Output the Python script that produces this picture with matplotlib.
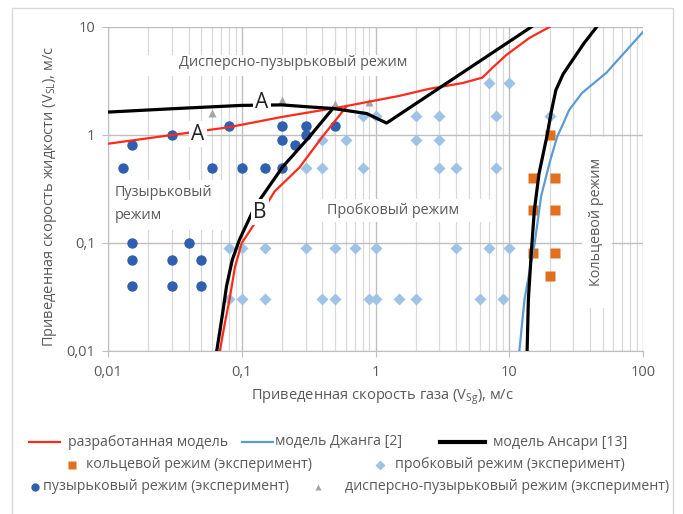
import matplotlib
matplotlib.use("Agg")
import matplotlib.pyplot as plt
from matplotlib.ticker import FixedLocator, FixedFormatter, NullLocator, NullFormatter
from matplotlib.lines import Line2D
from matplotlib.patches import Rectangle

plt.rcParams['font.family'] = ['Open Sans', 'DejaVu Sans']
plt.rcParams['mathtext.default'] = 'regular'

W, H = 683, 514
TXT = '#595959'

# ---- данные ----
# модели
red_a_x = [0.01, 0.03, 0.08, 0.2, 0.6, 1.5, 2.5, 4.5, 6.3, 7.5, 9.5, 14.1, 20]
red_a_y = [0.83, 1.0, 1.18, 1.47, 1.85, 2.3, 2.67, 3.03, 3.4, 4.2, 5.5, 7.9, 10]
red_b_x = [0.0686, 0.0747, 0.081, 0.089, 0.1, 0.13, 0.176, 0.27, 0.4, 0.61]
red_b_y = [0.01, 0.018, 0.03, 0.06, 0.1, 0.163, 0.3, 0.5, 0.96, 1.85]

black_a_x = [0.01, 0.03, 0.1, 0.2, 0.3, 0.48, 0.86, 1.21, 14.6]
black_a_y = [1.63, 1.75, 1.88, 1.9, 1.83, 1.76, 1.58, 1.29, 10]
black_b_x = [0.065, 0.072, 0.077, 0.085, 0.096, 0.125, 0.202, 0.32, 0.48]
black_b_y = [0.01, 0.0225, 0.04, 0.07, 0.107, 0.215, 0.506, 0.96, 1.76]
black_c_x = [13.6, 13.9, 14.6, 15.4, 16.7, 19.2, 20.6, 22.3, 25.3, 29.6, 36.3, 45]
black_c_y = [0.01, 0.03, 0.08, 0.2, 0.44, 1.0, 1.63, 2.6, 3.67, 4.9, 7.1, 10]

zhang_x = [11.9, 13, 15.5, 17.3, 20, 22.8, 25.5, 28, 35, 53, 100]
zhang_y = [0.01, 0.03, 0.1, 0.27, 0.55, 0.96, 1.3, 1.7, 2.45, 3.75, 9]

# эксперимент
bubble_x = [0.015, 0.013, 0.03, 0.06, 0.08, 0.1, 0.15, 0.2, 0.2, 0.2, 0.25,
            0.3, 0.3, 0.5, 0.015, 0.04, 0.015, 0.03, 0.05, 0.015, 0.03, 0.05]
bubble_y = [0.8, 0.5, 1.0, 0.5, 1.2, 0.5, 0.5, 1.2, 0.9, 0.5, 0.8,
            1.2, 1.0, 1.2, 0.1, 0.1, 0.07, 0.07, 0.07, 0.04, 0.04, 0.04]

slug_x = [7, 10,
          0.8, 1.0, 2, 3, 8, 20,
          0.4, 0.6, 2, 3,
          0.3, 0.4, 0.8, 3, 4, 8,
          0.08, 0.1, 0.15, 0.3, 0.5, 0.7, 1.0, 4, 7, 10,
          0.08, 0.1, 0.15, 0.4, 0.5, 0.9, 1.0, 1.5, 2, 6, 9]
slug_y = [3, 3,
          1.5, 1.5, 1.5, 1.5, 1.5, 1.5,
          0.9, 0.9, 0.9, 0.9,
          0.5, 0.5, 0.5, 0.5, 0.5, 0.5,
          0.09, 0.09, 0.09, 0.09, 0.09, 0.09, 0.09, 0.09, 0.09, 0.09,
          0.03, 0.03, 0.03, 0.03, 0.03, 0.03, 0.03, 0.03, 0.03, 0.03, 0.03]

annular_x = [20, 15, 22, 15, 22, 15, 22, 20]
annular_y = [1.0, 0.4, 0.4, 0.2, 0.2, 0.08, 0.08, 0.05]

disp_x = [0.06, 0.2, 0.5, 0.9]
disp_y = [1.6, 2.1, 1.95, 2.0]

x_ticks = [0.01, 0.1, 1, 10, 100]
x_labels = ['0,01', '0,1', '1', '10', '100']
y_ticks = [0.01, 0.1, 1, 10]
y_labels = ['0,01', '0,1', '1', '10']

C_RED = '#ff2a1a'
C_BLUE = '#5b9bd5'
C_DOT = '#2f5fae'
C_DIA = '#9dc3e6'
C_SQ = '#e0701e'
C_TRI = '#a5a5a5'


def fx(px):
    return px / W


def fy(py):
    return 1 - py / H


fig = plt.figure(figsize=(W / 100, H / 100), dpi=100)
fig.patches.append(Rectangle((fx(12), fy(530)), fx(673) - fx(12), fy(8) - fy(530),
                             transform=fig.transFigure, fill=False,
                             edgecolor='#d9d9d9', lw=1))

ax = fig.add_axes([fx(108), fy(351), fx(643) - fx(108), fy(27) - fy(351)])
ax.set_xscale('log')
ax.set_yscale('log')
ax.set_xlim(0.01, 100)
ax.set_ylim(0.01, 10)

ax.xaxis.set_major_locator(FixedLocator(x_ticks))
ax.xaxis.set_major_formatter(FixedFormatter(x_labels))
ax.yaxis.set_major_locator(FixedLocator(y_ticks))
ax.yaxis.set_major_formatter(FixedFormatter(y_labels))
ax.yaxis.set_minor_locator(NullLocator())
ax.xaxis.set_minor_formatter(NullFormatter())
ax.tick_params(which='major', length=4, color='#bfbfbf', labelcolor=TXT, labelsize=10.5)
ax.tick_params(axis='x', which='major', pad=6)
ax.tick_params(axis='y', which='major', pad=5)
ax.tick_params(which='minor', length=0)
ax.grid(which='major', color='#bfbfbf', lw=1)
ax.grid(which='minor', axis='x', color='#d9d9d9', lw=0.9)
ax.set_axisbelow(True)
for s in ['top', 'right']:
    ax.spines[s].set_visible(False)
for s in ['left', 'bottom']:
    ax.spines[s].set_color('#bfbfbf')

# точки
ax.plot(slug_x, slug_y, 'D', color=C_DIA, ms=6.5, mec='none', zorder=3)
ax.plot(bubble_x, bubble_y, 'o', color=C_DOT, ms=7.5, mec='none', zorder=3)
ax.plot(annular_x, annular_y, 's', color=C_SQ, ms=6.5, mec='none', zorder=3)
ax.plot(disp_x, disp_y, '^', color=C_TRI, ms=6, mec='none', zorder=3)

# линии моделей
ax.plot(red_a_x, red_a_y, color=C_RED, lw=1.6, zorder=4)
ax.plot(red_b_x, red_b_y, color=C_RED, lw=1.6, zorder=4)
ax.plot(zhang_x, zhang_y, color=C_BLUE, lw=1.6, zorder=4)
for bx, by in [(black_a_x, black_a_y), (black_b_x, black_b_y), (black_c_x, black_c_y)]:
    ax.plot(bx, by, color='black', lw=2.3, zorder=5, solid_joinstyle='round')


# белые подложки надписей
def box(x0, y0, x1, y1):
    fig.patches.append(Rectangle((fx(x0), fy(y1)), fx(x1) - fx(x0), fy(y0) - fy(y1),
                                 transform=fig.transFigure, facecolor='white',
                                 edgecolor='none', zorder=1))


box(140, 55, 411, 76)
box(110, 180, 222, 230)
box(318, 199, 493, 222)
box(582, 137, 612, 308)

REG_FS = 10.4
fig.text(fx(293), fy(63), 'Дисперсно-пузырьковый режим', ha='center', va='center',
         fontsize=REG_FS, color=TXT)
fig.text(fx(115), fy(193), 'Пузырьковый', ha='left', va='center', fontsize=REG_FS, color=TXT)
fig.text(fx(115), fy(215), 'режим', ha='left', va='center', fontsize=REG_FS, color=TXT)
fig.text(fx(327), fy(211), 'Пробковый режим', ha='left', va='center', fontsize=REG_FS, color=TXT)
fig.text(fx(597), fy(222), 'Кольцевой режим', ha='center', va='center', rotation=90,
         fontsize=REG_FS, color=TXT)

lbl_bb = dict(boxstyle='square,pad=0.1', facecolor='white', edgecolor='none')
for t, px, py in [('A', 262, 103), ('A', 198, 134), ('B', 260, 212)]:
    fig.text(fx(px), fy(py), t, ha='center', va='center', fontsize=15,
             color='#222222', bbox=lbl_bb, zorder=10)

# подписи осей
fig.text(fx(382), fy(397), 'Приведенная скорость газа (V$_{Sg}$), м/с',
         ha='center', va='center', fontsize=10.5, color=TXT)
fig.text(fx(50), fy(197), 'Приведенная скорость жидкости (V$_{SL}$), м/с',
         ha='center', va='center', rotation=90, fontsize=10.5, color=TXT)

# легенда
LEG_FS = 10.2


def leg_line(x0, x1, y, color, lw):
    fig.add_artist(Line2D([fx(x0), fx(x1)], [fy(y), fy(y)], transform=fig.transFigure,
                          color=color, lw=lw))


def leg_mark(x, y, marker, color, ms):
    fig.add_artist(Line2D([fx(x)], [fy(y)], transform=fig.transFigure, marker=marker,
                          color=color, ms=ms, mec='none', ls='none'))


def leg_text(x, y, s):
    fig.text(fx(x), fy(y), s, ha='left', va='center', fontsize=LEG_FS, color=TXT)


leg_line(29, 60, 442, C_RED, 1.6)
leg_text(68, 442, 'разработанная модель')
leg_line(242, 273, 442, C_BLUE, 1.6)
leg_text(275, 442, 'модель Джанга [2]')
leg_line(440, 485, 442, 'black', 3.0)
leg_text(493, 442, 'модель Ансари [13]')

leg_mark(72, 465, 's', C_SQ, 5.5)
leg_text(86, 465, 'кольцевой режим (эксперимент)')
leg_mark(380, 465, 'D', C_DIA, 5)
leg_text(395, 465, 'пробковый режим (эксперимент)')

leg_mark(35, 487, 'o', C_DOT, 6)
leg_text(43, 487, 'пузырьковый режим (эксперимент)')
leg_mark(318, 487, '^', C_TRI, 5)
leg_text(345, 487, 'дисперсно-пузырьковый режим (эксперимент)')

fig.savefig('out.png', dpi=100)
